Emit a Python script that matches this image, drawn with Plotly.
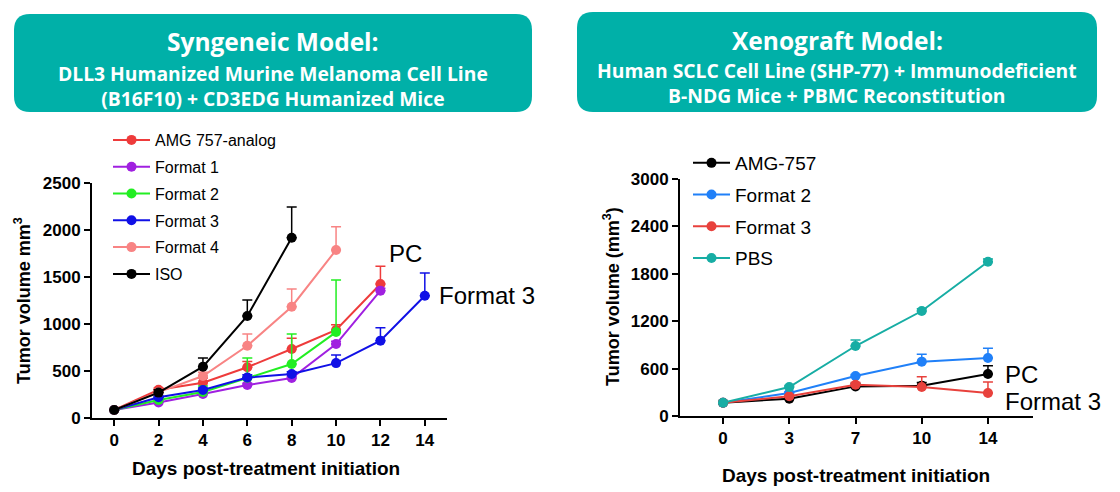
import plotly.graph_objects as go

W, H = 1120, 492

# ---------------- data: syngeneic model (left) ----------------
days_left = [0, 2, 4, 6, 8, 10, 12, 14]
amg_analog = [85, 300, 376, 540, 734, 936, 1425]
amg_analog_err = [0, 20, 50, 60, 115, 55, 190]
format1 = [85, 165, 255, 351, 425, 787, 1355]
format1_err = [0, 10, 15, 20, 20, 30, 25]
format2 = [85, 191, 276, 429, 574, 914]
format2_err = [0, 30, 65, 210, 320, 555]
format3 = [85, 220, 298, 430, 468, 584, 823, 1301]
format3_err = [0, 15, 20, 30, 25, 86, 138, 241]
format4 = [85, 275, 447, 769, 1184, 1787]
format4_err = [0, 20, 40, 125, 188, 248]
iso = [85, 270, 546, 1085, 1918]
iso_err = [0, 30, 92, 170, 327]
left_yticks = [0, 500, 1000, 1500, 2000, 2500]

# ---------------- data: xenograft model (right) ----------------
days_right = ["0", "3", "7", "10", "14"]
amg757 = [168, 219, 375, 384, 532]
amg757_err = [0, 15, 35, 40, 105]
x_format2 = [168, 291, 506, 688, 734]
x_format2_err = [0, 15, 20, 95, 125]
x_format3 = [168, 250, 395, 367, 291]
x_format3_err = [0, 15, 30, 130, 140]
pbs = [168, 367, 886, 1329, 1953]
pbs_err = [0, 20, 75, 30, 35]
right_yticks = [0, 600, 1200, 1800, 2400, 3000]

TEAL = "#00B0A8"
AX_FONT = "Liberation Sans, Arial, sans-serif"
HDR_FONT = "Open Sans, sans-serif"

def px(x):
    return x / W

def py(y):
    return 1 - y / H

fig = go.Figure()

left_series = [
    ("AMG 757-analog", amg_analog, amg_analog_err, "#EE3B3B"),
    ("Format 1", format1, format1_err, "#A020E0"),
    ("Format 2", format2, format2_err, "#22EE22"),
    ("Format 3", format3, format3_err, "#1010E6"),
    ("Format 4", format4, format4_err, "#F88484"),
    ("ISO", iso, iso_err, "#000000"),
]
for i, (name, vals, errs, col) in enumerate(left_series):
    fig.add_trace(go.Scatter(
        x=days_left[:len(vals)], y=vals, name=name, mode="lines+markers",
        line=dict(color=col, width=2), marker=dict(color=col, size=10),
        error_y=dict(type="data", symmetric=False, array=errs,
                     arrayminus=[0] * len(errs), color=col, thickness=1.5, width=5),
        xaxis="x", yaxis="y", legend="legend", legendgroup="L%d" % i,
        cliponaxis=False,
    ))

right_series = [
    ("AMG-757", amg757, amg757_err, "#000000"),
    ("Format 2", x_format2, x_format2_err, "#2080F8"),
    ("Format 3", x_format3, x_format3_err, "#E8413C"),
    ("PBS", pbs, pbs_err, "#17ADA4"),
]
for i, (name, vals, errs, col) in enumerate(right_series):
    fig.add_trace(go.Scatter(
        x=days_right, y=vals, name=name, mode="lines+markers",
        line=dict(color=col, width=2), marker=dict(color=col, size=10),
        error_y=dict(type="data", symmetric=False, array=errs,
                     arrayminus=[0] * len(errs), color=col, thickness=1.5, width=5),
        xaxis="x2", yaxis="y2", legend="legend2", legendgroup="R%d" % i,
        cliponaxis=False,
    ))

axis_common = dict(showline=True, linewidth=2, linecolor="black", ticks="outside",
                   ticklen=6, tickwidth=2, tickcolor="black", showgrid=False,
                   zeroline=False, automargin=False,
                   tickfont=dict(family=AX_FONT, size=17, color="black", weight="bold"))

fig.update_layout(
    template="none",
    width=W, height=H, autosize=False,
    margin=dict(l=0, r=0, t=0, b=0, pad=0),
    paper_bgcolor="white", plot_bgcolor="white",
    showlegend=True,
    xaxis=dict(domain=[px(92), px(447)], range=[-1, 15], tickvals=days_left,
               anchor="y", **axis_common),
    yaxis=dict(domain=[py(418), py(183)], range=[0, 2500], tickvals=left_yticks,
               anchor="x", **axis_common),
    xaxis2=dict(domain=[px(680), px(1033)], type="category", range=[-0.65, 4.68],
                anchor="y2", **axis_common),
    yaxis2=dict(domain=[py(416), py(179)], range=[0, 3000], tickvals=right_yticks,
                anchor="x2", **axis_common),
    legend=dict(x=px(108), y=py(123), xanchor="left", yanchor="top",
                bgcolor="rgba(0,0,0,0)", tracegroupgap=3, itemwidth=37,
                font=dict(family=AX_FONT, size=16, color="black")),
    legend2=dict(x=px(688), y=py(144), xanchor="left", yanchor="top",
                 bgcolor="rgba(0,0,0,0)", tracegroupgap=4, itemwidth=37,
                 font=dict(family=AX_FONT, size=19, color="black")),
)

# ---------------- header boxes ----------------
def rounded_box(x0, y0, x1, y1, r):
    X0, X1 = px(x0), px(x1)
    Y0, Y1 = py(y1), py(y0)  # bottom, top in paper
    rx, ry = r / W, r / H
    return (f"M {X0+rx},{Y0} L {X1-rx},{Y0} Q {X1},{Y0} {X1},{Y0+ry} "
            f"L {X1},{Y1-ry} Q {X1},{Y1} {X1-rx},{Y1} "
            f"L {X0+rx},{Y1} Q {X0},{Y1} {X0},{Y1-ry} "
            f"L {X0},{Y0+ry} Q {X0},{Y0} {X0+rx},{Y0} Z")

for box in [(14, 14, 532, 112), (577, 12, 1097, 112)]:
    fig.add_shape(type="path", path=rounded_box(*box, 16), xref="paper", yref="paper",
                  fillcolor=TEAL, line=dict(width=0), layer="below")

def note(text, x, y, size, bold=False, color="black", family=AX_FONT,
         xanchor="center", angle=0):
    fig.add_annotation(text=text, x=px(x), y=py(y), xref="paper", yref="paper",
                       xanchor=xanchor, yanchor="middle", showarrow=False,
                       textangle=angle, borderpad=0,
                       font=dict(family=family, size=size, color=color,
                                 weight="bold" if bold else "normal"))

note("Syngeneic Model:", 273, 42, 24.5, True, "white", HDR_FONT)
note("DLL3 Humanized Murine Melanoma Cell Line<br>(B16F10) + CD3EDG Humanized Mice",
     273, 86, 19.3, True, "white", HDR_FONT)
note("Xenograft Model:", 837, 40, 24.5, True, "white", HDR_FONT)
note("Human SCLC Cell Line (SHP-77) + Immunodeficient<br>B-NDG Mice + PBMC Reconstitution",
     837, 83, 19.3, True, "white", HDR_FONT)

# axis titles
note("Tumor volume mm<sup>3</sup>", 22, 301, 18, True, angle=-90)
note("Tumor volume (mm<sup>3</sup>)", 611, 297, 18, True, angle=-90)
note("Days post-treatment initiation", 266, 468, 19, True)
note("Days post-treatment initiation", 856, 475, 19, True)

# direct labels
note("PC", 388, 253, 24, xanchor="left")
note("Format 3", 438, 295, 24, xanchor="left")
note("PC", 1004, 374, 24, xanchor="left")
note("Format 3", 1004, 401, 24, xanchor="left")

fig.write_html("out.html", config={"displayModeBar": False})
